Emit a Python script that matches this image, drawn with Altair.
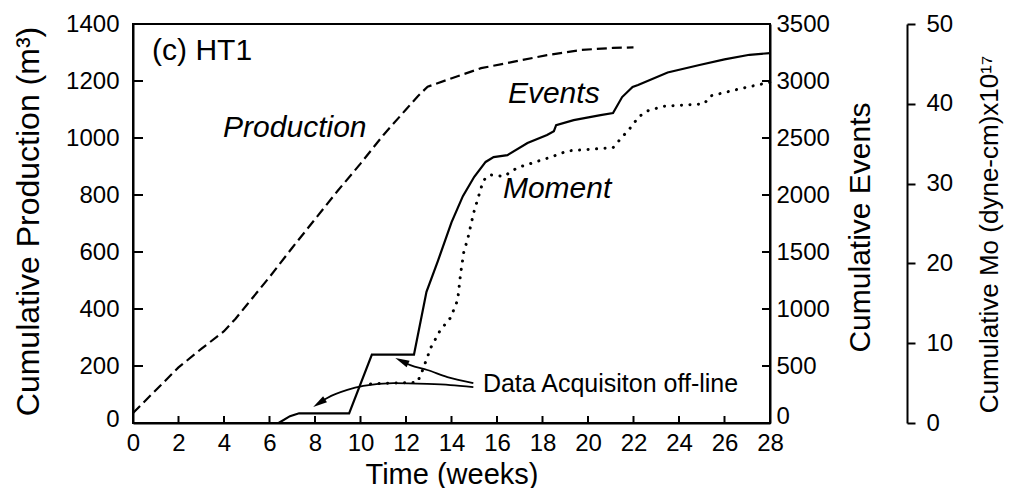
import altair as alt
import pandas as pd

# ---------------- data ----------------
prod_weeks = [0, 1, 2, 3, 4, 4.5, 5, 6, 7, 8, 9, 10, 11, 12, 12.5, 12.95,
              13.8, 15.3, 16.7, 18.2, 19.7, 21.1, 22.0]
prod_vals = [35, 115, 195, 260, 322, 365, 414, 512, 615, 715, 815, 910, 1010,
             1100, 1145, 1180, 1204, 1245, 1267, 1291, 1309, 1316, 1318]

events_weeks = [6.4, 6.9, 7.3, 9.5, 10.5, 12.35, 12.9, 13.4, 14.0, 14.5, 15.0,
                15.5, 15.85, 16.46, 17.34, 18.2, 18.5, 18.6, 19.37, 20.55, 21.1,
                21.5, 21.96, 22.2, 23.5, 24.9, 26.0, 27.1, 28.0]
events_vals = [0, 60, 85, 85, 600, 600, 1150, 1420, 1760, 1990, 2160,
               2290, 2333, 2350, 2456, 2526, 2560, 2613, 2657, 2701, 2719,
               2859, 2947, 2965, 3075, 3140, 3190, 3230, 3245]

moment_weeks = [10.44, 12.5, 12.7, 13.1, 13.5, 13.96, 14.27, 14.4, 14.55, 14.7,
                14.97, 15.4, 15.7, 16.3, 16.9, 18.35, 19.1, 21.1, 21.4, 21.96,
                22.2, 22.6, 23.35, 25.1, 25.4, 26.7, 28.0]
moment_vals = [4.9, 5.1, 6.4, 9.5, 11.6, 13.2, 15.4, 18.7, 21.6, 22.9,
               26.3, 30.4, 31.1, 30.9, 32.0, 33.3, 34.1, 34.5, 35.5, 37.3,
               38.3, 39.1, 39.7, 40.0, 41.0, 41.9, 42.7]

x_ticks = list(range(0, 29, 2))
prod_ticks = list(range(0, 1401, 200))
events_ticks = list(range(0, 3501, 500))
moment_ticks = [0, 10, 20, 30, 40, 50]

# annotation texts (positions in weeks / production units)
panel_text = ["(c) HT1"]
panel_week = [0.84]
panel_prod = [1274]

curve_text = ["Production", "Events", "Moment"]
curve_week = [3.96, 16.48, 16.26]
curve_prod = [1003, 1123, 789]

note_text = ["Data Acquisiton off-line"]
note_week = [15.38]
note_prod = [109]

# annotation arrows (weeks / production units)
arrow_id = ["low"] * 8 + ["up"] * 5
arrow_week = [14.96, 13.95, 12.94, 11.44, 10.12, 9.42, 8.54, 8.1,
              14.96, 13.82, 12.94, 12.19, 11.7]
arrow_prod = [126, 133, 137, 140, 130, 116, 88, 66,
              140, 161, 186, 203, 222]
head_week = [7.92, 11.53]
head_prod = [56, 228]
head_angle = [237, 295]

# ---------------- chart ----------------
W, H = 637, 399
FONT = "Liberation Sans"

x_scale = alt.Scale(domain=[0, 28], nice=False, zero=False)
prod_scale = alt.Scale(domain=[0, 1400], nice=False)
events_scale = alt.Scale(domain=[0, 3500], nice=False)
moment_scale = alt.Scale(domain=[0, 50], nice=False)

x_axis = alt.Axis(values=x_ticks, format="d", ticks=False, tickSize=0, labelPadding=8,
                  labelFontSize=24, title="Time (weeks)", titleFontSize=29,
                  titleY=60, titleBaseline="alphabetic")


def xq():
    return alt.X("week:Q", scale=x_scale, axis=x_axis)


def yq(scale, axis=None):
    return alt.Y("v:Q", scale=scale, axis=axis)


def zero_lift(px):
    return {"condition": {"test": "datum.value === 0", "value": -px}, "value": 0}


prod_df = pd.DataFrame({"week": prod_weeks, "v": prod_vals})
events_df = pd.DataFrame({"week": events_weeks, "v": events_vals})
moment_df = pd.DataFrame({"week": moment_weeks, "v": moment_vals})

prod_line = alt.Chart(prod_df).mark_line(
    color="black", strokeWidth=2.2, strokeDash=[10, 5]
).encode(
    x=xq(),
    y=yq(prod_scale,
         alt.Axis(orient="left", values=prod_ticks, format="d", ticks=False, tickSize=0,
                  labelPadding=14, labelFontSize=24, labelOffset=zero_lift(4),
                  title="Cumulative Production (m³)", titleFontSize=32,
                  titleAngle=270, titleX=-105, titleY=197,
                  titleBaseline="middle", titleAlign="center")),
)

left_ticks = alt.Chart(pd.DataFrame({"v": prod_ticks})).mark_rule(
    color="black", strokeWidth=2
).encode(y=yq(prod_scale), x=alt.value(0), x2=alt.value(10))

bottom_ticks = alt.Chart(pd.DataFrame({"week": x_ticks})).mark_rule(
    color="black", strokeWidth=2
).encode(x=xq(), y=alt.value(H - 7), y2=alt.value(H))

panel = alt.Chart(pd.DataFrame({"t": panel_text, "week": panel_week, "v": panel_prod})).mark_text(
    font=FONT, fontSize=30, align="left", baseline="alphabetic", color="black"
).encode(x=xq(), y=yq(prod_scale), text="t:N")

curves_lbl = alt.Chart(pd.DataFrame({"t": curve_text, "week": curve_week, "v": curve_prod})).mark_text(
    font=FONT, fontSize=30, fontStyle="italic", align="left", baseline="alphabetic", color="black"
).encode(x=xq(), y=yq(prod_scale), text="t:N")

note = alt.Chart(pd.DataFrame({"t": note_text, "week": note_week, "v": note_prod})).mark_text(
    font=FONT, fontSize=25, align="left", baseline="alphabetic", color="black"
).encode(x=xq(), y=yq(prod_scale), text="t:N")

arrow_lines = alt.Chart(pd.DataFrame({"a": arrow_id, "week": arrow_week, "v": arrow_prod})).mark_line(
    color="black", strokeWidth=1.8, interpolate="monotone"
).encode(x=xq(), y=yq(prod_scale), detail="a:N")

arrow_heads = alt.Chart(pd.DataFrame({"week": head_week, "v": head_prod, "ang": head_angle})).mark_point(
    shape="M0,0L0.25,1L-0.25,1Z", size=800, filled=True, color="black", opacity=1
).encode(x=xq(), y=yq(prod_scale), angle=alt.Angle("ang:Q", scale=None))

events_line = alt.Chart(events_df).mark_line(color="black", strokeWidth=2.2).encode(
    x=xq(),
    y=yq(events_scale,
         alt.Axis(orient="right", values=events_ticks, format="d", ticks=False, tickSize=0,
                  labelPadding=6, labelFontSize=24, labelOffset=zero_lift(7),
                  title="Cumulative Events", titleFontSize=30,
                  titleAngle=270, titleX=90, titleY=203,
                  titleBaseline="middle", titleAlign="center")),
)
right_ticks = alt.Chart(pd.DataFrame({"v": events_ticks})).mark_rule(
    color="black", strokeWidth=2
).encode(y=yq(events_scale), x=alt.value(W - 8), x2=alt.value(W))

moment_line = alt.Chart(moment_df).mark_line(
    color="black", strokeWidth=3, strokeDash=[0.1, 8.4], strokeCap="round"
).encode(
    x=xq(),
    y=yq(moment_scale,
         alt.Axis(orient="right", offset=137, values=moment_ticks, format="d",
                  tickSize=8, tickWidth=2, tickColor="black",
                  labelPadding=11, labelFontSize=24,
                  title="Cumulative Mo (dyne-cm)x10¹⁷", titleFontSize=26,
                  titleAngle=270, titleX=82, titleY=210,
                  titleBaseline="middle", titleAlign="center")),
)

chart = alt.layer(
    prod_line, events_line, moment_line, left_ticks, bottom_ticks, right_ticks,
    panel, curves_lbl, note, arrow_lines, arrow_heads
).resolve_scale(
    y="independent"
).properties(
    width=W, height=H,
    autosize=alt.AutoSizeParams(type="none"),
    padding={"left": 125, "top": 16, "right": 235, "bottom": 65},
).configure_view(
    stroke="black", strokeWidth=2
).configure_axis(
    labelFont=FONT, titleFont=FONT, labelColor="black", titleColor="black",
    domainColor="black", domainWidth=2, titleFontWeight="normal", grid=False,
    labelFlush=False, labelOverlap=False
)

chart.save("out.html", embed_options={"renderer": "svg", "actions": False})
